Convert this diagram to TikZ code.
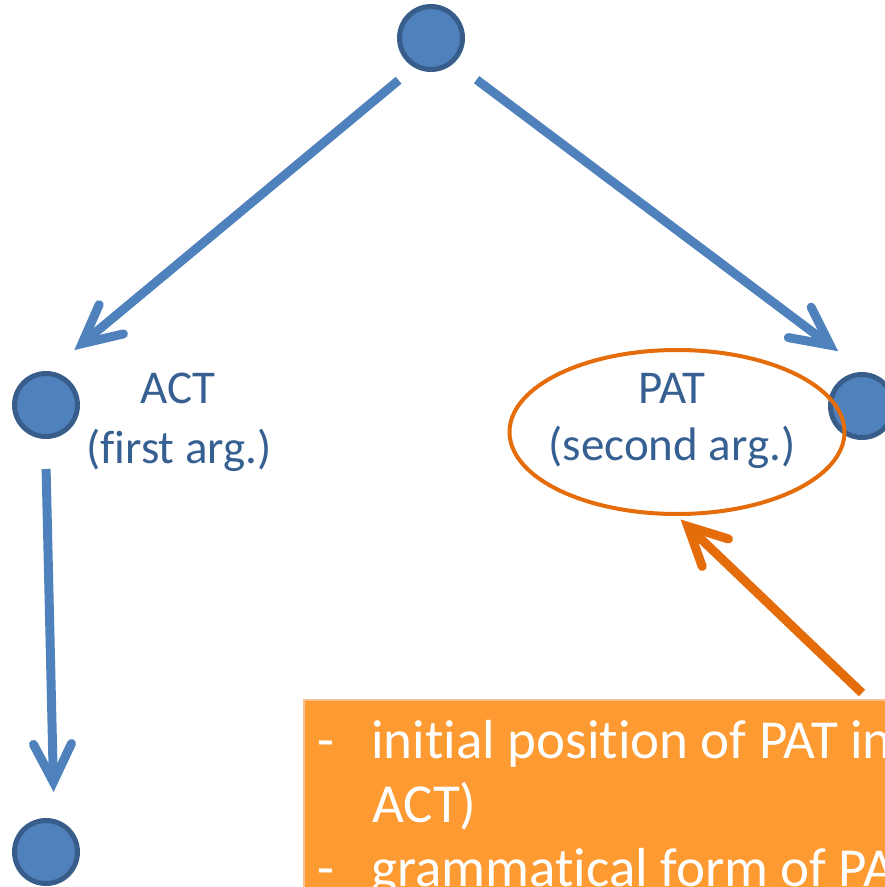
\documentclass[tikz,border=0pt]{standalone}
\usepackage{fontspec}
\setmainfont{Carlito}[Ligatures=NoCommon]
\usetikzlibrary{arrows, arrows.meta}
\usetikzlibrary{shapes.geometric}

\definecolor{nodeblue}{RGB}{79,129,189}
\definecolor{nodeedge}{RGB}{56,93,138}
\definecolor{labelblue}{RGB}{55,96,146}
\definecolor{ringorange}{RGB}{228,108,10}
\definecolor{boxorange}{RGB}{253,154,50}
\definecolor{boxedge}{RGB}{250,192,144}

\begin{document}
\begin{tikzpicture}[x=1pt, y=-1pt,
    vertex/.style={circle, draw=nodeedge, fill=nodeblue, line width=5pt, inner sep=0pt, minimum size=63pt},
    edge/.style={draw=nodeblue, line width=9pt, -{Straight Barb[length=38pt, width=38pt, line join=miter, line cap=round]}},
    pointer/.style={edge, draw=ringorange},
    role/.style={text=labelblue, font=\fontsize{47}{60}\selectfont, inner sep=0pt, anchor=base},
    item/.style={text=white, font=\fontsize{55}{64}\selectfont, inner sep=0pt, anchor=base west}]
    \useasboundingbox (0,0) rectangle (885,887);
    \clip (0,0) rectangle (885,887);

    \node[vertex] (root) at (431,38) {};
    \node[vertex] (act) at (46,405) {};
    \node[vertex] (pat) at (862,406) {};
    \node[vertex] (actdep) at (46,852) {};

    \node[role] (actname) at (178,403) {ACT};
    \node[role] (actrole) at (179,463) {(first arg.)};
    \node[role] (patname) at (672,403) {PAT};
    \node[role] (patrole) at (672,460) {(second arg.)};

    \node[ellipse, draw=ringorange, line width=4pt, inner sep=0pt, minimum width=335pt, minimum height=164pt] (ring) at (677,432) {};

    \draw[edge, shorten <=20pt, shorten >=33pt] (root.240) -- (act.85);
    \draw[edge, shorten <=28pt, shorten >=35pt] (root.313) -- (pat.83);
    \draw[edge, shorten <=30pt, shorten >=27pt] (act.269) -- (actdep.76);

    \coordinate (noteptr) at (862,693);
    \draw[pointer, shorten >=5pt] (noteptr) -- (ring.south);

    \node[rectangle, fill=boxorange, draw=boxedge, line width=1.5pt, anchor=north west, minimum width=620pt, minimum height=220pt] (note) at (303,699) {};
    \node[item] (dash1) at (317,758) {-};
    \node[item] (item1) at (371,758) {initial position of PAT in};
    \node[item] (item1b) at (372,822) {ACT)};
    \node[item] (dash2) at (317,886) {-};
    \node[item] (item2) at (371,886) {grammatical form of PAT};
\end{tikzpicture}
\end{document}
